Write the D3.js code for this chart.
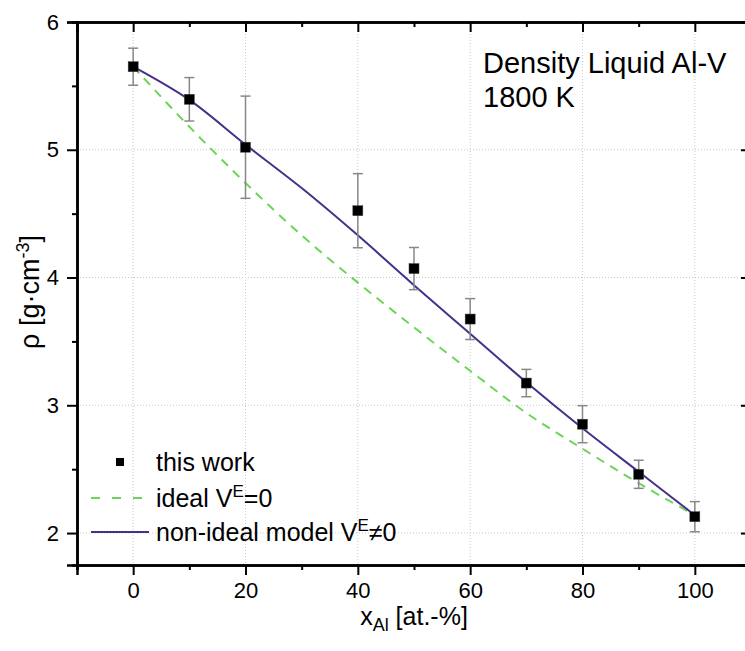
<!DOCTYPE html>
<html>
<head>
<meta charset="utf-8">
<script src="https://cdn.jsdelivr.net/npm/d3@7"></script>
<style>
  body { margin: 0; background: #fff; }
  text { font-family: "Liberation Sans", Arial, sans-serif; fill: #000; }
</style>
</head>
<body>
<div id="chart"></div>
<script>
// measured points (this work)
var xAl = [0, 10, 20, 40, 50, 60, 70, 80, 90, 100];
var rho = [5.65, 5.395, 5.02, 4.523, 4.07, 3.675, 3.174, 2.852, 2.46, 2.128];
var rhoErr = [0.145, 0.17, 0.40, 0.29, 0.165, 0.16, 0.107, 0.145, 0.11, 0.118];

// model curves
var modelX = [0, 10, 20, 30, 40, 50, 60, 70, 80, 90, 100];
var idealRho = [5.65, 5.18, 4.74, 4.33, 3.96, 3.61, 3.27, 2.94, 2.66, 2.39, 2.14];
var nonIdealRho = [5.65, 5.39, 5.04, 4.70, 4.33, 3.94, 3.56, 3.18, 2.82, 2.48, 2.14];

var xTicks = [0, 20, 40, 60, 80, 100];
var xMinor = [-10, 10, 30, 50, 70, 90, 110];
var yTicks = [2, 3, 4, 5, 6];
var yMinor = [2.5, 3.5, 4.5, 5.5];

var svgWidth = 745, svgHeight = 651;
var plotLeft = 77, plotRight = 751, plotTop = 22, plotBottom = 565;

var svg = d3.select("#chart").append("svg")
  .attr("width", svgWidth)
  .attr("height", svgHeight);

var x = d3.scaleLinear().domain([-10, 110]).range([plotLeft, plotRight]);
var y = d3.scaleLinear().domain([1.75, 6]).range([plotBottom, plotTop]);

// grid
var grid = svg.append("g");
grid.selectAll(".gx").data(xTicks).enter().append("line")
  .attr("x1", d => x(d)).attr("x2", d => x(d))
  .attr("y1", plotTop).attr("y2", plotBottom)
  .attr("stroke", "#c8c8c8").attr("stroke-width", 1).attr("stroke-dasharray", "1,2");
grid.selectAll(".gy").data(yTicks.filter(d => d < 6)).enter().append("line")
  .attr("x1", plotLeft).attr("x2", plotRight)
  .attr("y1", d => y(d)).attr("y2", d => y(d))
  .attr("stroke", "#c8c8c8").attr("stroke-width", 1).attr("stroke-dasharray", "1,2");

// axes
var xAxis = d3.axisBottom(x).tickValues(xTicks).tickSize(10).tickPadding(7);
svg.append("g").attr("transform", `translate(0,${plotBottom})`).call(xAxis);
var yAxis = d3.axisLeft(y).tickValues(yTicks).tickSize(10).tickPadding(8).tickFormat(d3.format("d"));
svg.append("g").attr("transform", `translate(${plotLeft},0)`).call(yAxis);
// mirrored axes, ticks pointing inward
svg.append("g").attr("transform", `translate(0,${plotTop})`)
  .call(d3.axisBottom(x).tickValues(xTicks).tickSize(10).tickFormat(""));
svg.append("g").attr("transform", `translate(${plotRight},0)`)
  .call(d3.axisLeft(y).tickValues(yTicks).tickSize(10).tickFormat(""));

// minor ticks
svg.append("g").attr("transform", `translate(0,${plotBottom})`)
  .call(d3.axisBottom(x).tickValues(xMinor).tickSize(5).tickFormat(""));
svg.append("g").attr("transform", `translate(0,${plotTop})`)
  .call(d3.axisBottom(x).tickValues(xMinor).tickSize(5).tickFormat(""));
svg.append("g").attr("transform", `translate(${plotLeft},0)`)
  .call(d3.axisLeft(y).tickValues(yMinor).tickSize(5).tickFormat(""));
svg.append("g").attr("transform", `translate(${plotRight},0)`)
  .call(d3.axisLeft(y).tickValues(yMinor).tickSize(5).tickFormat(""));

svg.selectAll(".domain").attr("stroke", "#000").attr("stroke-width", 2.5);
svg.selectAll(".tick line").attr("stroke", "#000").attr("stroke-width", 2);
svg.selectAll(".tick text").style("font-size", "22px").style("font-family", "'Liberation Sans', Arial, sans-serif");

// model lines
var line = d3.line().x((d, i) => x(modelX[i])).y(d => y(d)).curve(d3.curveCatmullRom.alpha(0.5));
svg.append("path").datum(idealRho)
  .attr("d", line).attr("fill", "none")
  .attr("stroke", "#6dd45a").attr("stroke-width", 2).attr("stroke-dasharray", "9,7");
svg.append("path").datum(nonIdealRho)
  .attr("d", line).attr("fill", "none")
  .attr("stroke", "#46308a").attr("stroke-width", 2);

// error bars
var eb = svg.append("g").attr("stroke", "#888").attr("stroke-width", 1.5);
xAl.forEach(function(v, i) {
  var cx = x(v);
  eb.append("line").attr("x1", cx).attr("x2", cx)
    .attr("y1", y(rho[i] + rhoErr[i])).attr("y2", y(rho[i] - rhoErr[i]));
  [rho[i] + rhoErr[i], rho[i] - rhoErr[i]].forEach(function(e) {
    eb.append("line").attr("x1", cx - 5).attr("x2", cx + 5)
      .attr("y1", y(e)).attr("y2", y(e));
  });
});

// points
svg.selectAll(".pt").data(xAl).enter().append("rect")
  .attr("x", d => x(d) - 5).attr("y", (d, i) => y(rho[i]) - 5)
  .attr("width", 10).attr("height", 10)
  .attr("fill", "#000").attr("stroke", "#444").attr("stroke-width", 0.5);

// title
svg.append("text").attr("x", 483).attr("y", 73).style("font-size", "29px").text("Density Liquid Al-V");
svg.append("text").attr("x", 483).attr("y", 107).style("font-size", "29px").text("1800 K");

// axis labels
var xl = svg.append("text").attr("x", 414).attr("y", 625).attr("text-anchor", "middle").style("font-size", "25px");
xl.append("tspan").text("x");
xl.append("tspan").attr("dy", 6).style("font-size", "18px").text("Al");
xl.append("tspan").attr("dy", -6).text(" [at.-%]");

var yl = svg.append("text").attr("transform", "translate(39,292) rotate(-90)")
  .attr("text-anchor", "middle").style("font-size", "27px");
yl.append("tspan").text("ρ [g·cm");
yl.append("tspan").attr("dy", -10).style("font-size", "18px").text("-3");
yl.append("tspan").attr("dy", 10).text("]");

// legend
var legY = [462, 498, 532];
var leg = svg.append("g");
leg.append("rect").attr("x", 116).attr("y", legY[0] - 4).attr("width", 8).attr("height", 8).attr("fill", "#000");
leg.append("line").attr("x1", 91).attr("x2", 144).attr("y1", legY[1]).attr("y2", legY[1])
  .attr("stroke", "#6dd45a").attr("stroke-width", 2).attr("stroke-dasharray", "9,12");
leg.append("line").attr("x1", 91).attr("x2", 149).attr("y1", legY[2]).attr("y2", legY[2])
  .attr("stroke", "#46308a").attr("stroke-width", 2);

leg.append("text").attr("x", 156).attr("y", legY[0] + 9).style("font-size", "25px").text("this work");
var l2 = leg.append("text").attr("x", 156).attr("y", legY[1] + 9).style("font-size", "25px");
l2.append("tspan").text("ideal V");
l2.append("tspan").attr("dy", -10).style("font-size", "17px").text("E");
l2.append("tspan").attr("dy", 10).text("=0");
var l3 = leg.append("text").attr("x", 156).attr("y", legY[2] + 9).style("font-size", "25px");
l3.append("tspan").text("non-ideal model V");
l3.append("tspan").attr("dy", -10).style("font-size", "17px").text("E");
l3.append("tspan").attr("dy", 10).text("≠0");
</script>
</body>
</html>
